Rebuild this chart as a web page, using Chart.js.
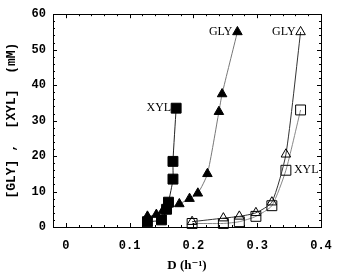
<!DOCTYPE html>
<html><head><meta charset="utf-8">
<script src="https://cdn.jsdelivr.net/npm/chart.js@4.4.0/dist/chart.umd.min.js"></script>
<style>html,body{margin:0;padding:0;background:#fff;}canvas{display:block;}</style>
</head><body>
<canvas id="c" width="346" height="277"></canvas>
<script>
// Data
const xylFilledX = [0.128, 0.150, 0.158, 0.161, 0.168, 0.168, 0.173];
const xylFilledY = [1.5, 2.0, 5.0, 7.0, 13.5, 18.5, 33.5];
const glyFilledX = [0.128, 0.142, 0.152, 0.178, 0.194, 0.207, 0.222, 0.240, 0.245, 0.269];
const glyFilledY = [3.0, 3.5, 4.5, 6.5, 8.0, 9.5, 15.0, 32.5, 37.5, 55.0];
const glyOpenX = [0.198, 0.247, 0.272, 0.298, 0.323, 0.345, 0.368];
const glyOpenY = [1.5, 2.5, 3.0, 4.0, 7.0, 20.5, 55.0];
const xylOpenX = [0.198, 0.247, 0.272, 0.298, 0.323, 0.345, 0.368];
const xylOpenY = [1.0, 1.0, 1.5, 3.0, 6.0, 16.0, 33.0];
const xTicks = [0, 0.1, 0.2, 0.3, 0.4];
const yTicks = [0, 10, 20, 30, 40, 50, 60];
const seriesLabels = ['XYL', 'GLY', 'GLY', 'XYL'];

const pts = (xs, ys) => xs.map((x, i) => ({x: x, y: ys[i]}));
const MONO = "'Liberation Mono', 'DejaVu Sans Mono', monospace";
const SERIF = "'Liberation Serif', 'DejaVu Serif', serif";

const annot = {
  id: 'annot',
  afterDatasetsDraw(chart) {
    const ctx = chart.ctx, xs = chart.scales.x, ys = chart.scales.y, a = chart.chartArea;
    ctx.save();
    ctx.strokeStyle = '#000'; ctx.lineWidth = 1;
    ctx.strokeRect(Math.round(a.left) + 0.5, Math.round(a.top) + 0.5, Math.round(a.right - a.left), Math.round(a.bottom - a.top));
    ctx.beginPath();
    for (let i = 0; i <= 20; i++) {
      const v = i * 0.02;
      const px = Math.round(xs.getPixelForValue(v)) + 0.5;
      const len = (i % 5 === 0) ? 4 : 2;
      ctx.moveTo(px, a.bottom); ctx.lineTo(px, a.bottom - len);
      ctx.moveTo(px, a.top); ctx.lineTo(px, a.top + len);
    }
    for (let i = 0; i <= 30; i++) {
      const v = i * 2;
      const py = Math.round(ys.getPixelForValue(v)) + 0.5;
      const len = (i % 5 === 0) ? 4 : 2;
      ctx.moveTo(a.left, py); ctx.lineTo(a.left + len, py);
      ctx.moveTo(a.right, py); ctx.lineTo(a.right - len, py);
    }
    ctx.stroke();
    ctx.fillStyle = '#000';
    ctx.font = "12px " + SERIF;
    ctx.textBaseline = 'middle';
    const place = [
      {ds: 0, idx: 6, side: 'left'},
      {ds: 1, idx: 9, side: 'left'},
      {ds: 2, idx: 6, side: 'left'},
      {ds: 3, idx: 5, side: 'right'}
    ];
    place.forEach(p => {
      const el = chart.getDatasetMeta(p.ds).data[p.idx];
      if (p.side === 'left') { ctx.textAlign = 'right'; ctx.fillText(seriesLabels[p.ds], el.x - 5, el.y); }
      else { ctx.textAlign = 'left'; ctx.fillText(seriesLabels[p.ds], el.x + 8, el.y); }
    });
    ctx.restore();
  }
};

new Chart(document.getElementById('c'), {
  type: 'scatter',
  data: {
    datasets: [
      {data: pts(xylFilledX, xylFilledY), showLine: true, borderColor: '#222', borderWidth: 1, tension: 0.2,
       pointStyle: 'rect', pointRadius: 7, backgroundColor: '#000', pointBorderColor: '#000', clip: false},
      {data: pts(glyFilledX, glyFilledY), showLine: true, borderColor: '#777', borderWidth: 1, tension: 0.2,
       pointStyle: 'triangle', pointRadius: 5.5, backgroundColor: '#000', pointBorderColor: '#000', clip: false},
      {data: pts(glyOpenX, glyOpenY), showLine: true, borderColor: '#333', borderWidth: 1, tension: 0.2,
       pointStyle: 'triangle', pointRadius: 5.5, backgroundColor: 'rgba(255,255,255,0)', pointBackgroundColor: 'rgba(255,255,255,0)', pointBorderColor: '#000', pointBorderWidth: 1, clip: false},
      {data: pts(xylOpenX, xylOpenY), showLine: true, borderColor: '#888', borderWidth: 1, tension: 0.2,
       pointStyle: 'rect', pointRadius: 7, backgroundColor: 'rgba(255,255,255,0)', pointBackgroundColor: 'rgba(255,255,255,0)', pointBorderColor: '#000', pointBorderWidth: 1, clip: false}
    ]
  },
  options: {
    responsive: false, animation: false,
    layout: {padding: {top: 12, right: 25, left: 0, bottom: 0}},
    plugins: {legend: {display: false}, tooltip: {enabled: false}},
    scales: {
      x: {
        type: 'linear', min: -0.02, max: 0.4,
        afterBuildTicks: s => { s.ticks = xTicks.map(v => ({value: v})); },
        afterFit: s => { s.height = 50; },
        grid: {display: false, drawTicks: false},
        border: {display: false},
        ticks: {padding: 12, color: '#000', font: {family: MONO, weight: 'bold', size: 12},
                maxRotation: 0, callback: v => String(v)},
        title: {display: true, text: 'D (h\u207B\u00B9)', color: '#000', font: {family: SERIF, weight: 'bold', size: 13}, padding: {top: 0, bottom: 4}}
      },
      y: {
        type: 'linear', min: 0, max: 60,
        afterBuildTicks: s => { s.ticks = yTicks.map(v => ({value: v})); },
        afterFit: s => { s.width = 53; },
        grid: {display: false, drawTicks: false},
        border: {display: false},
        ticks: {padding: 7, color: '#000', font: {family: MONO, weight: 'bold', size: 12}},
        title: {display: true, text: '[GLY] ,  [XYL]  (mM)', color: '#000', font: {family: MONO, weight: 'bold', size: 13}, padding: {top: 4, bottom: 0}}
      }
    }
  },
  plugins: [annot]
});
</script>
</body></html>
